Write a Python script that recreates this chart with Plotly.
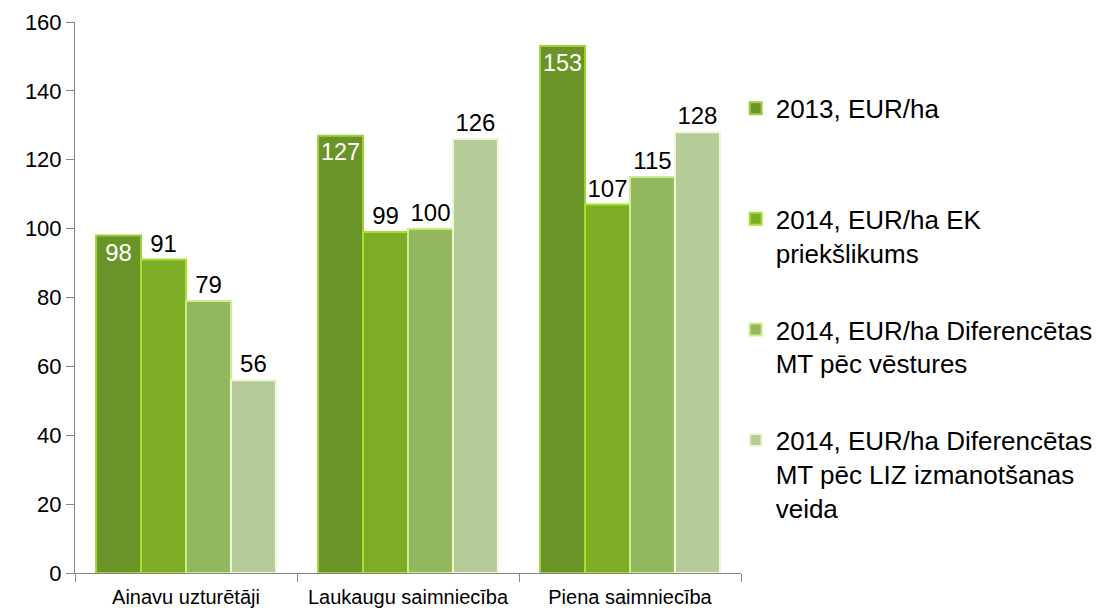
import plotly.graph_objects as go

categories = ["Ainavu uzturētāji", "Laukaugu saimniecība", "Piena saimniecība"]
series_names = [
    "2013, EUR/ha<br> ",
    "2014, EUR/ha EK<br>priekšlikums",
    "2014, EUR/ha Diferencētas<br>MT pēc vēstures",
    "2014, EUR/ha Diferencētas<br>MT pēc LIZ izmanotšanas<br>veida",
]
v2013 = [98, 127, 153]
v2014_ek = [91, 99, 107]
v2014_vest = [79, 100, 115]
v2014_liz = [56, 126, 128]
y_ticks = [0, 20, 40, 60, 80, 100, 120, 140, 160]

values = [v2013, v2014_ek, v2014_vest, v2014_liz]
fills = ["#6a9428", "#7cad24", "#93b75e", "#b5cc99"]
edges = ["#9ed03c", "#a9e02e", "#cdee8c", "#eef7d6"]

FONT = "Liberation Sans, Arial"

fig = go.Figure()
for i, (name, vals) in enumerate(zip(series_names, values)):
    inside = i == 0
    fig.add_trace(go.Bar(
        x=categories, y=vals, name=name, legendgroup=f"g{i}",
        marker=dict(color=fills[i], line=dict(color=edges[i], width=2)),
        text=[str(v) for v in vals],
        textposition="inside" if inside else "outside",
        insidetextanchor="end",
        textangle=0,
        textfont=dict(family=FONT, size=24,
                      color="white" if inside else "black"),
        cliponaxis=False,
    ))

fig.update_layout(
    width=1098, height=603,
    margin=dict(l=67, r=365, t=14, b=38, autoexpand=False),
    paper_bgcolor="white", plot_bgcolor="white",
    barmode="group", bargap=0.19, bargroupgap=0,
    font=dict(family=FONT, size=20, color="black"),
    uniformtext=dict(mode=False),
    legend=dict(
        x=0.992, y=0.886, xanchor="left", yanchor="top",
        traceorder="grouped", tracegroupgap=40, valign="top",
        font=dict(family=FONT, size=26, color="black"),
        bgcolor="rgba(0,0,0,0)",
    ),
    xaxis=dict(
        showline=True, linecolor="#868686", linewidth=1,
        ticks="outside", ticklen=8, tickcolor="#868686", tickson="boundaries",
        showgrid=False, tickfont=dict(size=20), automargin=False,
        ticklabelstandoff=6,
    ),
    yaxis=dict(
        range=[0, 160], tickvals=y_ticks,
        showline=True, linecolor="#868686", linewidth=1,
        ticks="outside", ticklen=8, tickcolor="#868686",
        showgrid=False, zeroline=False, tickfont=dict(size=22), automargin=False,
    ),
)

fig.write_html("out.html")
